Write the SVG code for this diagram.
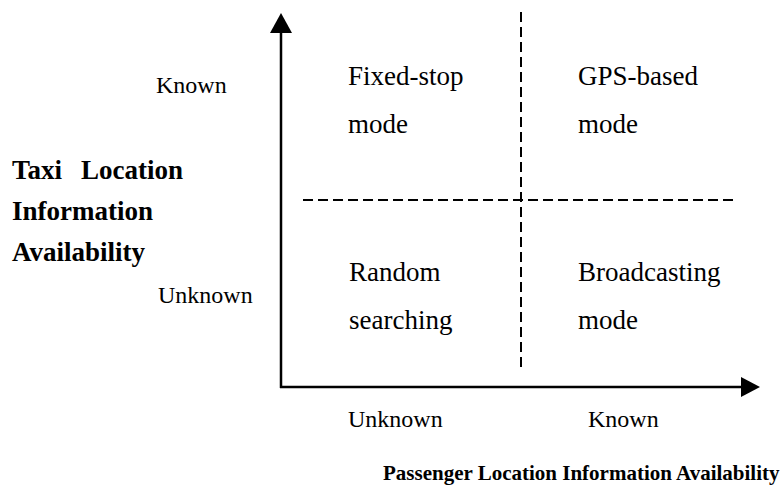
<svg xmlns="http://www.w3.org/2000/svg" width="784" height="495" viewBox="0 0 784 495">
<style>
.t{font-family:"Liberation Serif","Times New Roman",serif;fill:#000}
.s{font-size:24px}
.q{font-size:27px}
.b{font-size:27px;font-weight:bold}
.bt{font-size:21px;font-weight:bold}
.ax{stroke:#000;stroke-width:2.5;fill:none}
.d{stroke:#000;stroke-width:2;stroke-dasharray:10,5;fill:none}
</style>
<rect width="784" height="495" fill="#fff"/>
<g id="connectors">
<line class="ax" x1="281" y1="388" x2="281" y2="30"/>
<polygon points="281,13 270,33 292,33" fill="#000"/>
<line class="ax" x1="280" y1="387" x2="742" y2="387"/>
<polygon points="760,387 741,377 741,397" fill="#000"/>
<line class="d" x1="303" y1="200" x2="738" y2="200"/>
<line class="d" x1="521" y1="12" x2="521" y2="367"/>
</g>
<g id="axis-labels">
<text class="t s" x="156" y="93">Known</text>
<text class="t s" x="158" y="303">Unknown</text>
<text class="t s" x="348" y="427">Unknown</text>
<text class="t s" x="588" y="427">Known</text>
</g>
<g id="y-title">
<text class="t b" x="12" y="179">Taxi</text>
<text class="t b" x="81" y="179">Location</text>
<text class="t b" x="12" y="220">Information</text>
<text class="t b" x="12" y="261">Availability</text>
</g>
<g id="x-title">
<text class="t bt" x="383" y="480">Passenger Location Information Availability</text>
</g>
<g id="q-fixed">
<text class="t q" x="348" y="85">Fixed-stop</text>
<text class="t q" x="348" y="133">mode</text>
</g>
<g id="q-gps">
<text class="t q" x="578" y="85">GPS-based</text>
<text class="t q" x="578" y="133">mode</text>
</g>
<g id="q-random">
<text class="t q" x="349" y="281">Random</text>
<text class="t q" x="349" y="329">searching</text>
</g>
<g id="q-broadcast">
<text class="t q" x="578" y="281">Broadcasting</text>
<text class="t q" x="578" y="329">mode</text>
</g>
</svg>
